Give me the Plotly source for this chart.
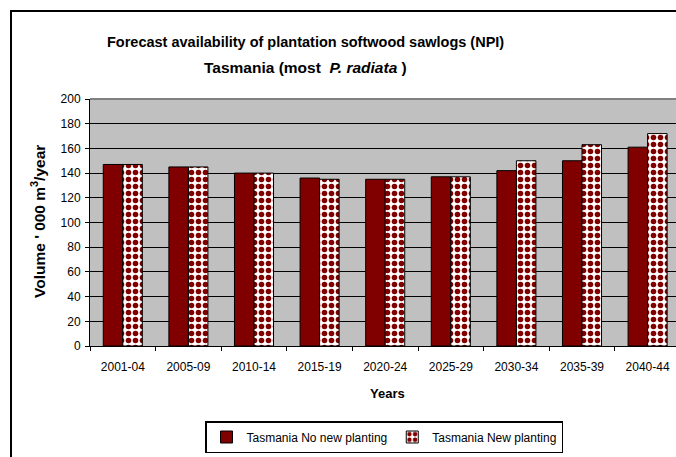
import plotly.graph_objects as go

categories = ["2001-04", "2005-09", "2010-14", "2015-19", "2020-24",
              "2025-29", "2030-34", "2035-39", "2040-44"]
no_new_planting = [147, 145, 140, 136, 135, 137, 142, 150, 161]
new_planting = [147, 145, 140, 135, 135, 137, 150, 163, 172]
series_names = ["Tasmania No new planting", "Tasmania New planting"]
y_ticks = [0, 20, 40, 60, 80, 100, 120, 140, 160, 180, 200]

W, H = 676, 457
L, T, R, B = 90, 99, 0, 457 - 346
PW, PH = W - L - R, H - T - B

def px(x):
    return (x - L) / PW

def py(y):
    return (H - B - y) / PH

FONT = "Liberation Sans, Arial, sans-serif"
DARK = "#800000"
CAT_W = 65.6

fig = go.Figure()
fig.add_trace(go.Bar(
    x=categories, y=no_new_planting, name=series_names[0],
    marker=dict(color=DARK, line=dict(color="black", width=1)),
))
fig.add_trace(go.Bar(
    x=categories, y=new_planting, name=series_names[1],
    marker=dict(color="white", line=dict(color="black", width=1),
                pattern=dict(shape=".", fgcolor=DARK, bgcolor="white",
                             fillmode="replace", size=7, solidity=0.5)),
))

fig.update_layout(
    width=W, height=H,
    margin=dict(l=L, r=R, t=T, b=B, pad=0, autoexpand=False),
    paper_bgcolor="white", plot_bgcolor="#C0C0C0",
    barmode="group", bargap=0.405, bargroupgap=0,
    font=dict(family=FONT, size=12, color="black"),
    showlegend=True,
    legend=dict(orientation="h", x=px(384), xanchor="center",
                y=py(437), yanchor="middle",
                bordercolor="black", borderwidth=1.5, bgcolor="white",
                font=dict(size=12), tracegroupgap=0),
    xaxis=dict(type="category", categoryorder="array", categoryarray=categories,
               range=[-0.5, -0.5 + PW / CAT_W], showgrid=False,
               showline=True, linecolor="black", linewidth=1,
               ticks="outside", ticklen=4, tickcolor="black",
               tickson="boundaries", tickfont=dict(size=12),
               ticklabelstandoff=10, automargin=False),
    yaxis=dict(range=[0, 200], tickvals=y_ticks, showgrid=True,
               gridcolor="black", gridwidth=1, zeroline=False,
               showline=True, linecolor="black", linewidth=1,
               ticks="outside", ticklen=4, tickcolor="black",
               tickfont=dict(size=12), ticklabelstandoff=2,
               automargin=False),
    annotations=[
        dict(text="<b>Forecast availability of plantation softwood sawlogs (NPI)</b>",
             xref="paper", yref="paper", x=px(305), y=py(42),
             xanchor="center", yanchor="middle", showarrow=False,
             font=dict(size=14.5)),
        dict(text="<b>Tasmania (most&nbsp; <i>P. radiata</i>&nbsp;)</b>",
             xref="paper", yref="paper", x=px(305), y=py(67),
             xanchor="center", yanchor="middle", showarrow=False,
             font=dict(size=15.5)),
        dict(text="<b>Years</b>", xref="paper", yref="paper",
             x=px(387), y=py(393), xanchor="center", yanchor="middle",
             showarrow=False, font=dict(size=13)),
        dict(text="<b>Volume ' 000 m<sup>3</sup>/year</b>", xref="paper",
             yref="paper", x=px(38), y=py(222), xanchor="center",
             yanchor="middle", textangle=-90, showarrow=False,
             font=dict(size=15.5)),
    ],
    shapes=[
        dict(type="line", xref="paper", yref="paper", x0=0, x1=1, y0=1, y1=1,
             line=dict(color="#808080", width=2)),
        # outer chart frame (left and top edges; the rest lies off-page)
        dict(type="line", xref="paper", yref="paper",
             x0=px(11), x1=px(11), y0=py(11), y1=py(480),
             line=dict(color="black", width=2)),
        dict(type="line", xref="paper", yref="paper",
             x0=px(10), x1=px(720), y0=py(11), y1=py(11),
             line=dict(color="black", width=2)),
    ],
)

fig.write_html(
    "out.html",
    config={"displayModeBar": False},
    post_script="document.body.style.margin='0';"
                "document.documentElement.style.overflow='hidden';",
)
